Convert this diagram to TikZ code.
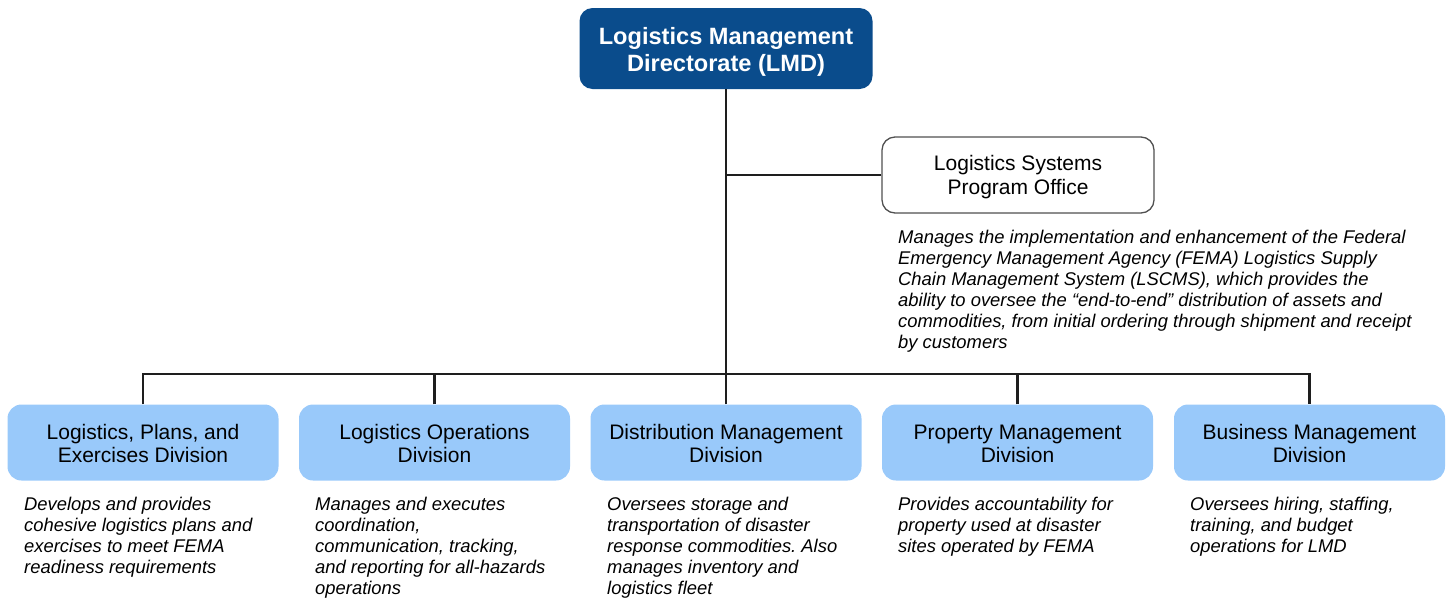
\documentclass[tikz,border=0pt]{standalone}
\usepackage{fontspec}
\setmainfont{Liberation Sans}
\frenchspacing
\definecolor{lmdblue}{RGB}{10,76,140}
\definecolor{divblue}{RGB}{153,201,250}
\definecolor{boxgray}{RGB}{80,80,80}
\definecolor{linegray}{RGB}{30,30,30}
\begin{document}
\begin{tikzpicture}[x=1pt,y=-1pt,
  topbox/.style={fill=lmdblue, draw=none, rounded corners=13pt, minimum width=293pt, minimum height=81pt, inner sep=0pt, align=center, text=white, font=\bfseries\fontsize{23.6}{27}\selectfont},
  officebox/.style={fill=white, draw=boxgray, line width=1.3pt, rounded corners=13pt, minimum width=272pt, minimum height=76pt, inner sep=0pt, align=center, font=\fontsize{21}{24}\selectfont},
  divbox/.style={fill=divblue, draw=none, rounded corners=14pt, minimum width=271pt, minimum height=76pt, inner sep=0pt, align=center, font=\fontsize{21}{23}\selectfont},
  desc/.style={anchor=north west, inner sep=0pt, align=left, font=\itshape\fontsize{18.4}{21}\selectfont},
  conn/.style={draw=linegray, line width=2.4pt}
]
\useasboundingbox (0,0) rectangle (1450,600);

\node[topbox] (lmd) at (726,48.5) {\rule{0pt}{23.5pt}Logistics Management\\Directorate (LMD)};
\node[officebox] (lspo) at (1018,175) {\rule{0pt}{19pt}Logistics Systems\\Program Office};
\node[desc] (lspod) at (898,230) {Manages the implementation and enhancement of the Federal\\Emergency Management Agency (FEMA) Logistics Supply\\Chain Management System (LSCMS), which provides the\\ability to oversee the “end-to-end” distribution of assets and\\commodities, from initial ordering through shipment and receipt\\by customers};

\node[divbox] (d1) at (143,442.5) {\rule{0pt}{17pt}Logistics, Plans, and\\Exercises Division};
\node[divbox] (d2) at (434.5,442.5) {\rule{0pt}{17pt}Logistics Operations\\Division};
\node[divbox] (d3) at (726,442.5) {\rule{0pt}{17pt}Distribution Management\\Division};
\node[divbox] (d4) at (1017.5,442.5) {\rule{0pt}{17pt}Property Management\\Division};
\node[divbox] (d5) at (1309.5,442.5) {\rule{0pt}{17pt}Business Management\\Division};

\node[desc] (d1d) at (24,497) {Develops and provides\\cohesive logistics plans and\\exercises to meet FEMA\\readiness requirements};
\node[desc] (d2d) at (315,497) {Manages and executes\\coordination,\\communication, tracking,\\and reporting for all-hazards\\operations};
\node[desc] (d3d) at (607,497) {Oversees storage and\\transportation of disaster\\response commodities. Also\\manages inventory and\\logistics fleet};
\node[desc] (d4d) at (898,497) {Provides accountability for\\property used at disaster\\sites operated by FEMA};
\node[desc] (d5d) at (1190,497) {Oversees hiring, staffing,\\training, and budget\\operations for LMD};

\coordinate (hub) at (726,374);
\draw[conn] (lmd.south) -- (hub);
\draw[conn] (lspo.west) -- (lspo.west -| lmd.south);
\draw[conn] (d1.north) |- (hub) -| (d5.north);
\draw[conn] (d2.north) -- (d2.north |- hub);
\draw[conn] (d3.north) -- (d3.north |- hub);
\draw[conn] (d4.north) -- (d4.north |- hub);
\end{tikzpicture}
\end{document}
